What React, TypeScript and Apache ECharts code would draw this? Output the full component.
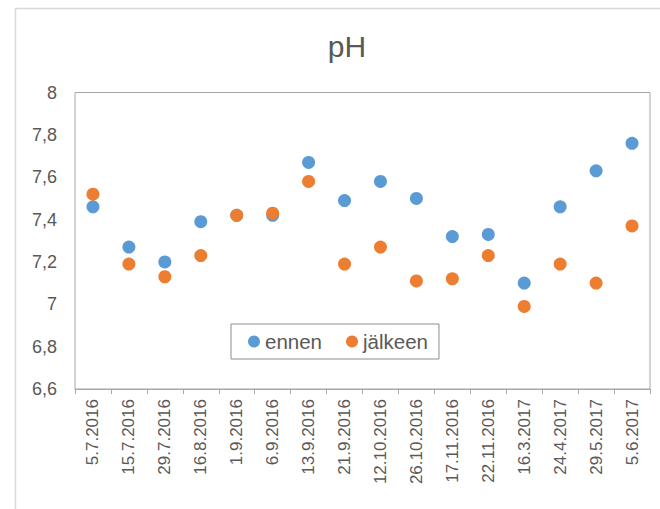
import React, { useEffect, useRef } from "react";
import * as echarts from "echarts";

const categories = [
  "5.7.2016", "15.7.2016", "29.7.2016", "16.8.2016", "1.9.2016", "6.9.2016",
  "13.9.2016", "21.9.2016", "12.10.2016", "26.10.2016", "17.11.2016", "22.11.2016",
  "16.3.2017", "24.4.2017", "29.5.2017", "5.6.2017",
];
const ennen = [7.46, 7.27, 7.2, 7.39, 7.42, 7.42, 7.67, 7.49, 7.58, 7.5, 7.32, 7.33, 7.1, 7.46, 7.63, 7.76];
const jalkeen = [7.52, 7.19, 7.13, 7.23, 7.42, 7.43, 7.58, 7.19, 7.27, 7.11, 7.12, 7.23, 6.99, 7.19, 7.1, 7.37];
const seriesNames = ["ennen", "jälkeen"];
const titleText = "pH";

const FONT = "'Liberation Sans', Arial, sans-serif";
const TEXT = "#595959";
const AXIS = "#a6a6a6";

export default function App() {
  const ref = useRef<HTMLDivElement>(null);
  useEffect(() => {
    if (!ref.current) return;
    const chart = echarts.init(ref.current, undefined, { renderer: "svg" });
    chart.setOption({
      animation: false,
      backgroundColor: "#ffffff",
      textStyle: { fontFamily: FONT },
      title: {
        text: titleText,
        left: 342,
        top: 26,
        textAlign: "center",
        textStyle: { fontFamily: FONT, fontSize: 30, fontWeight: "normal", color: TEXT },
      },
      graphic: [
        {
          type: "rect",
          left: 13,
          top: 6,
          shape: { x: 0, y: 0, width: 700, height: 600 },
          style: { fill: "none", stroke: "#d9d9d9", lineWidth: 1.5 },
          silent: true,
          z: -10,
        },
      ],
      legend: {
        data: seriesNames,
        left: 231,
        top: 324,
        orient: "horizontal",
        icon: "circle",
        itemWidth: 12,
        itemHeight: 12,
        itemGap: 24,
        padding: [7, 11, 7, 17],
        borderColor: "#8c8c8c",
        borderWidth: 1,
        textStyle: { fontFamily: FONT, fontSize: 20.5, color: TEXT },
      },
      grid: {
        left: 75,
        top: 92.5,
        right: 10,
        bottom: 120,
        show: true,
        borderColor: AXIS,
        borderWidth: 1,
        containLabel: false,
      },
      xAxis: {
        type: "category",
        data: categories,
        boundaryGap: true,
        axisLine: { show: true, lineStyle: { color: AXIS, width: 1 } },
        axisTick: { show: true, length: 5, alignWithLabel: false, lineStyle: { color: AXIS } },
        axisLabel: {
          interval: 0,
          rotate: 90,
          margin: 10,
          fontSize: 17,
          color: TEXT,
          fontFamily: FONT,
        },
        splitLine: { show: false },
      },
      yAxis: {
        type: "value",
        min: 6.6,
        max: 8,
        interval: 0.2,
        axisLine: { show: false },
        axisTick: { show: false },
        splitLine: { show: false },
        axisLabel: {
          margin: 18,
          fontSize: 18,
          color: TEXT,
          fontFamily: FONT,
          formatter: (v: number) => String(Math.round(v * 10) / 10).replace(".", ","),
        },
      },
      series: [
        {
          name: seriesNames[0],
          type: "scatter",
          data: ennen,
          symbol: "circle",
          symbolSize: 13,
          itemStyle: { color: "#5b9bd5", opacity: 1 },
        },
        {
          name: seriesNames[1],
          type: "scatter",
          data: jalkeen,
          symbol: "circle",
          symbolSize: 13,
          itemStyle: { color: "#ed7d31", opacity: 1 },
        },
      ],
    });
    return () => chart.dispose();
  }, []);
  return (
    <div
      ref={ref}
      style={{ position: "fixed", left: 0, top: 0, width: 660, height: 509 }}
    />
  );
}
